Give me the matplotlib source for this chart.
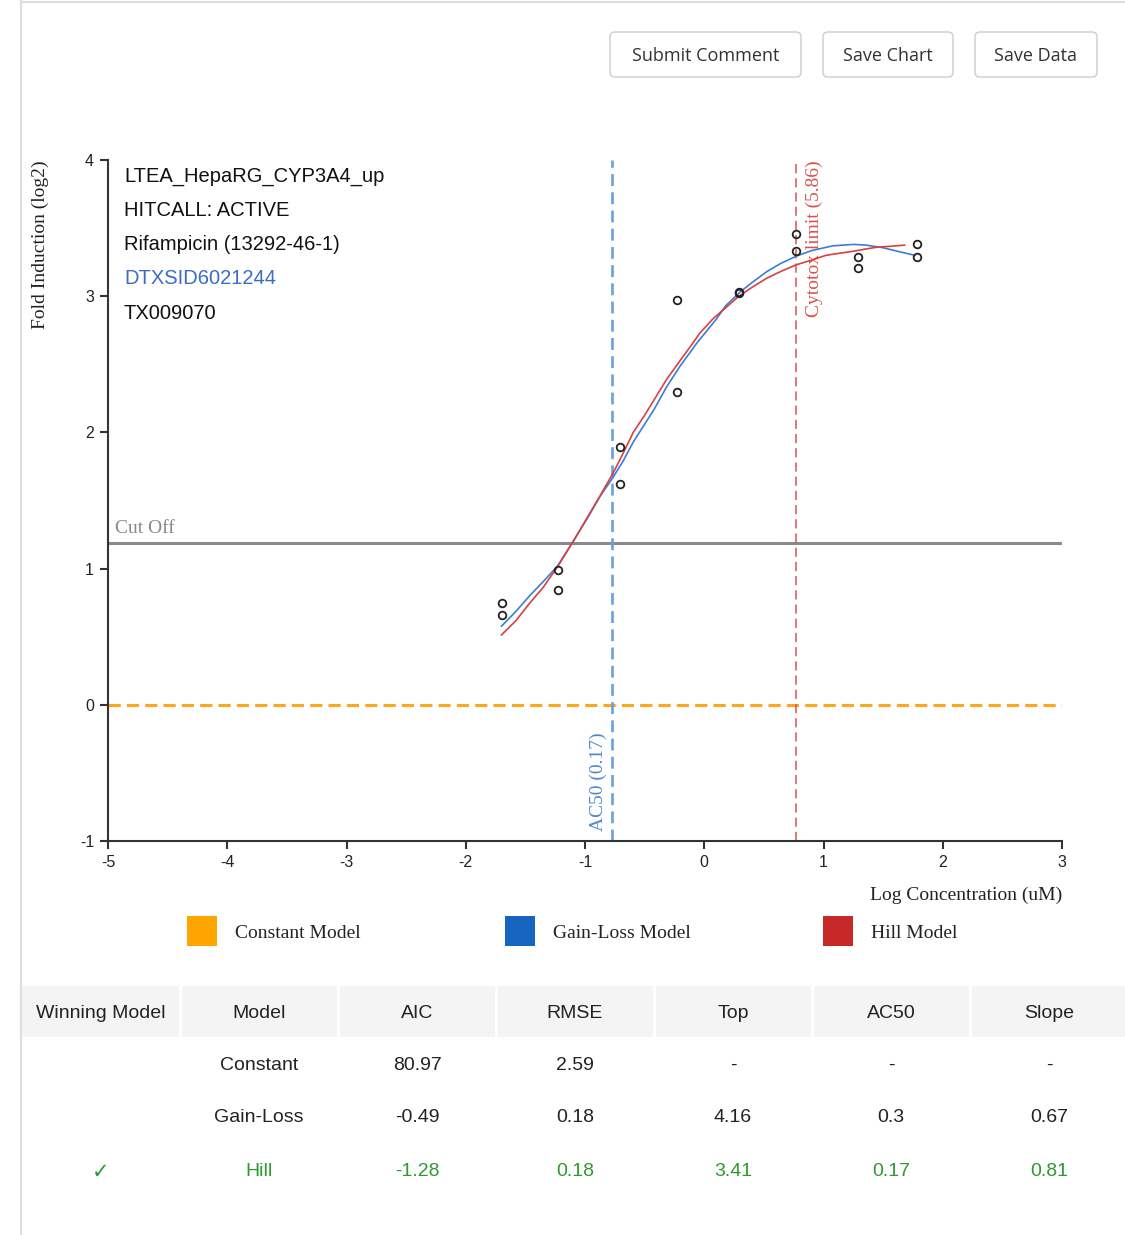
import matplotlib
matplotlib.use('Agg')
import matplotlib.pyplot as plt
from matplotlib.patches import FancyBboxPatch, Rectangle
import numpy as np

plt.rcParams['axes.unicode_minus'] = False

# measured responses (log concentration uM, fold induction log2)
conc = [-1.70, -1.70, -1.23, -1.23, -0.71, -0.71, -0.23, -0.23,
        0.29, 0.29, 0.77, 0.77, 1.29, 1.29, 1.78, 1.78]
resp = [0.75, 0.66, 0.99, 0.84, 1.89, 1.62, 2.97, 2.30,
        3.03, 3.02, 3.46, 3.33, 3.29, 3.21, 3.38, 3.29]

# fitted curves
gl_x = [-1.70, -1.58, -1.465, -1.35, -1.229, -1.10, -0.98, -0.874, -0.765, -0.68,
        -0.595, -0.50, -0.42, -0.315, -0.20, -0.10, -0.063, 0.10, 0.18, 0.30,
        0.40, 0.524, 0.64, 0.775, 0.90, 1.08, 1.25, 1.35, 1.50, 1.62, 1.767]
gl_y = [0.578, 0.685, 0.80, 0.905, 1.02, 1.20, 1.37, 1.53, 1.67, 1.79,
        1.93, 2.06, 2.17, 2.335, 2.49, 2.61, 2.655, 2.83, 2.93, 3.03,
        3.10, 3.18, 3.24, 3.295, 3.335, 3.37, 3.38, 3.376, 3.356, 3.33, 3.30]
hill_x = [-1.70, -1.58, -1.465, -1.35, -1.229, -1.098, -0.98, -0.87, -0.765, -0.68,
          -0.595, -0.50, -0.42, -0.315, -0.20, -0.10, -0.036, 0.08, 0.18, 0.29,
          0.40, 0.52, 0.64, 0.77, 0.90, 1.02, 1.14, 1.25, 1.35, 1.45, 1.57, 1.68]
hill_y = [0.513, 0.617, 0.745, 0.863, 1.016, 1.20, 1.376, 1.54, 1.70, 1.847,
          2.00, 2.126, 2.24, 2.39, 2.53, 2.65, 2.73, 2.84, 2.915, 3.00,
          3.065, 3.13, 3.181, 3.23, 3.265, 3.30, 3.316, 3.33, 3.346, 3.36, 3.367, 3.375]

cutoff = 1.19
ac50 = 0.17
cytotox = 5.86

info = ['LTEA_HepaRG_CYP3A4_up', 'HITCALL: ACTIVE', 'Rifampicin (13292-46-1)',
        'DTXSID6021244', 'TX009070']

buttons = ['Submit Comment', 'Save Chart', 'Save Data']
legend_names = ['Constant Model', 'Gain-Loss Model', 'Hill Model']
legend_colors = ['#FFA500', '#1565C0', '#C62828']

columns = ['Winning Model', 'Model', 'AIC', 'RMSE', 'Top', 'AC50', 'Slope']
models = ['Constant', 'Gain-Loss', 'Hill']
aic = ['80.97', '-0.49', '-1.28']
rmse = ['2.59', '0.18', '0.18']
top = ['-', '4.16', '3.41']
ac50_col = ['-', '0.3', '0.17']
slope = ['-', '0.67', '0.81']
winner = 'Hill'

W, H = 1125, 1235
fig = plt.figure(figsize=(W / 100, H / 100), dpi=100)
fig.patch.set_facecolor('white')

sans = 'Liberation Sans'
serif = 'Liberation Serif'

# page layer in pixel coordinates
bg = fig.add_axes([0, 0, 1, 1])
bg.set_xlim(0, W)
bg.set_ylim(H, 0)
bg.axis('off')
bg.plot([21, 21], [0, H], color='#dddddd', lw=1.5)
bg.plot([21, W], [1.5, 1.5], color='#dddddd', lw=1.5)

bx = [610, 823, 975]
bw = [191, 130, 122]
for name, x0, w in zip(buttons, bx, bw):
    bg.add_patch(FancyBboxPatch((x0, 32), w, 45, boxstyle='round,pad=0,rounding_size=5',
                                fc='white', ec='#cccccc', lw=1))
    bg.text(x0 + w / 2, 56, name, ha='center', va='center', fontsize=13,
            family='Open Sans', color='#333333')

# legend
for i, (name, c) in enumerate(zip(legend_names, legend_colors)):
    x0 = 187 + i * 318
    bg.add_patch(Rectangle((x0, 916), 30, 30, fc=c, ec='none'))
    bg.text(x0 + 48, 934, name, ha='left', va='center', fontsize=14, family=serif,
            color='#222222')

# table
bg.add_patch(Rectangle((22, 986), W - 22, 51, fc='#f4f4f4', ec='none'))
colw = 158
for j in range(1, len(columns)):
    bg.plot([22 + j * colw] * 2, [986, 1037], color='white', lw=2)
for j, col in enumerate(columns):
    bg.text(22 + colw * j + colw / 2, 1013, col, ha='center', va='center',
            fontsize=14, family=sans, color='#222222')
rows = list(zip(models, aic, rmse, top, ac50_col, slope))
for i, row in enumerate(rows):
    yc = 1065 + i * 53
    color = '#2E9A2E' if row[0] == winner else '#222222'
    if row[0] == winner:
        bg.text(22 + colw / 2, yc + 1, '\u2713', ha='center', va='center', fontsize=15,
                family=['DejaVu Sans'], color=color)
    for j, val in enumerate(row):
        bg.text(22 + colw * (j + 1) + colw / 2, yc, val, ha='center', va='center',
                fontsize=14, family=sans, color=color)

# chart
ax = fig.add_axes([108 / W, 1 - 841 / H, (1062 - 108) / W, (841 - 160) / H])
ax.set_facecolor('none')
ax.set_xlim(-5, 3)
ax.set_ylim(-1, 4)
for s in ['top', 'right']:
    ax.spines[s].set_visible(False)
for s in ['left', 'bottom']:
    ax.spines[s].set_color('#333333')
    ax.spines[s].set_linewidth(1.5)
ax.set_xticks(range(-5, 4))
ax.set_yticks(range(-1, 5))
ax.tick_params(direction='out', length=6, width=1.5, color='#333333',
               labelsize=11.5, pad=4)
for lab in ax.get_xticklabels() + ax.get_yticklabels():
    lab.set_family(sans)
    lab.set_color('#222222')

ax.axhline(0, color='#FFA51F', lw=2.2, ls=(0, (4, 2)), zorder=1)
ax.axhline(cutoff, color='#8a8a8a', lw=2.2, zorder=1)
ax.text(-4.94, cutoff + 0.04, 'Cut Off', family=serif, fontsize=14, color='#888888',
        ha='left', va='bottom')

xa = np.log10(ac50)
ax.axvline(xa, color='#6A9FDC', lw=1.9, ls=(0, (4.5, 2.4)), zorder=1)
ax.text(xa - 0.05, -0.93, 'AC50 (%.2f)' % ac50, rotation=90, ha='right', va='bottom',
        family=serif, fontsize=14, color='#4F86D4')

xc = np.log10(cytotox)
ax.axvline(xc, color='#D9534F', lw=1.1, ls=(0, (6, 3.3)), zorder=1)
ax.text(xc + 0.08, 4.0, 'Cytotox limit (%.2f)' % cytotox, rotation=90, ha='left', va='top',
        family=serif, fontsize=14, color='#D9534F')

ax.plot(gl_x, gl_y, color='#3A7DD8', lw=1.2, zorder=3, solid_joinstyle='round')
ax.plot(hill_x, hill_y, color='#D9403F', lw=1.2, zorder=3, solid_joinstyle='round')
ax.plot(conc, resp, ls='none', marker='o', ms=5.5, mfc='none', mec='#222222', mew=1.3, zorder=4)

# info block
for i, line in enumerate(info):
    c = '#3C6CC8' if line.startswith('DTXSID') else '#111111'
    fig.text(124 / W, 1 - (176 + i * 34.3) / H, line, ha='left', va='center',
             fontsize=14.5, family=sans, color=c)

fig.text(40 / W, 1 - 160 / H, 'Fold Induction (log2)', rotation=90, ha='center', va='top',
         fontsize=14, family=serif, color='#222222')
fig.text(1062 / W, 1 - 895 / H, 'Log Concentration (uM)', ha='right', va='center',
         fontsize=14, family=serif, color='#222222')

fig.savefig('out.png', dpi=100, facecolor='white')
